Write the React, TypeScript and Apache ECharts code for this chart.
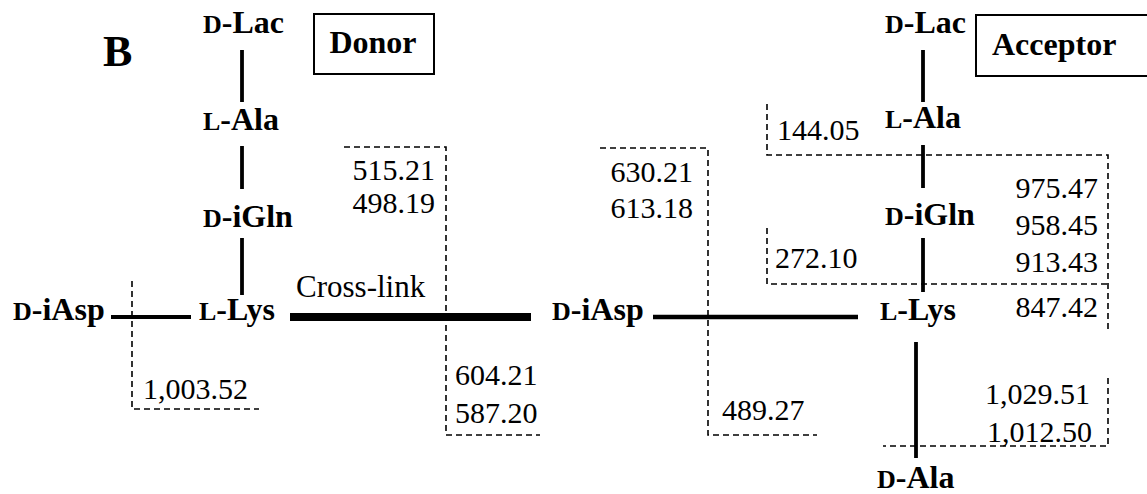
import { useEffect, useRef } from "react";
import * as echarts from "echarts";

const FONT = "Liberation Serif, Times New Roman, Times, serif";
const VIEW_W = 1147;
const VIEW_H = 494;

// Residues: [stereo prefix, residue, left x, baseline y]
const donorResidues: [string, string, number, number][] = [
  ["D", "Lac", 203, 33],
  ["L", "Ala", 203, 130],
  ["D", "iGln", 203, 227],
  ["L", "Lys", 199, 320],
  ["D", "iAsp", 13, 320],
];
const acceptorResidues: [string, string, number, number][] = [
  ["D", "Lac", 885, 33],
  ["L", "Ala", 885, 128],
  ["D", "iGln", 885, 225],
  ["L", "Lys", 880, 320],
  ["D", "Ala", 877, 488],
  ["D", "iAsp", 552, 320],
];

// Fragment masses: [label, anchor x, baseline y, anchor side]
const donorMasses: [string, number, number, string][] = [
  ["515.21", 435, 180, "right"],
  ["498.19", 435, 213, "right"],
  ["604.21", 455, 385, "left"],
  ["587.20", 455, 423, "left"],
  ["1,003.52", 143, 399, "left"],
];
const acceptorMasses: [string, number, number, string][] = [
  ["630.21", 693, 182, "right"],
  ["613.18", 693, 218, "right"],
  ["489.27", 722, 420, "left"],
  ["144.05", 777, 140, "left"],
  ["272.10", 775, 268, "left"],
  ["975.47", 1098, 198, "right"],
  ["958.45", 1098, 235, "right"],
  ["913.43", 1098, 272, "right"],
  ["847.42", 1098, 317, "right"],
  ["1,029.51", 1090, 404, "right"],
  ["1,012.50", 1092, 442, "right"],
];

// Bonds: [x1, y1, x2, y2]
const peptideBonds: number[][] = [
  [242, 50, 242, 102],
  [242, 146, 242, 189],
  [242, 238, 242, 295],
  [111, 317, 191, 317],
  [923, 50, 923, 102],
  [923, 145, 923, 188],
  [923, 238, 923, 292],
  [916, 342, 916, 458],
];
const acceptorBridgeBonds: number[][] = [[653, 317, 858, 317]];
const crossLinkBonds: number[][] = [[290, 317, 531, 317]];

// Dashed cleavage lines (point lists)
const cleavageLines: number[][][] = [
  [[132, 281], [132, 409], [259, 409]],
  [[344, 147], [446, 147], [446, 435], [540, 435]],
  [[600, 148], [708, 148], [708, 435], [817, 435]],
  [[767, 104], [767, 155], [1108, 155], [1108, 330]],
  [[767, 228], [767, 284], [1108, 284]],
  [[1108, 378], [1108, 446], [883, 446]],
];

// Panel boxes: [title, x1, y1, x2, y2, text x, text baseline, align]
const panelBoxes: [string, number, number, number, number, number, number, string][] = [
  ["Donor", 314, 14, 434, 74, 373, 53, "center"],
  ["Acceptor", 976, 15, 1152, 76, 992, 55, "left"],
];

// Free annotations: [text, left x, baseline y, font size, weight]
const annotations: [string, number, number, number, string][] = [
  ["B", 103, 66, 44, "bold"],
  ["Cross-link", 296, 297, 31, "normal"],
];

const measureCtx =
  typeof document !== "undefined"
    ? document.createElement("canvas").getContext("2d")
    : null;
function measure(text: string, size: number, weight: string) {
  if (!measureCtx) return text.length * size * 0.6;
  measureCtx.font = `${weight} ${size}px ${FONT}`;
  return measureCtx.measureText(text).width;
}

function textEl(
  x: number,
  baseline: number,
  text: string,
  size: number,
  weight: string,
  align: string
) {
  return {
    type: "text",
    x,
    y: baseline - 0.3375 * size,
    style: {
      text,
      fontSize: size,
      fontWeight: weight,
      fontFamily: FONT,
      fill: "#000",
      align,
      verticalAlign: "middle",
    },
  };
}

const MAIN = 32;
const SMALL = 26;

function residueSeries(list: [string, string, number, number][]) {
  return {
    type: "custom",
    coordinateSystem: "cartesian2d",
    silent: true,
    clip: false,
    encode: { x: 0, y: 1 },
    data: list.map((r) => [r[2], r[3]]),
    renderItem: (params: any, api: any) => {
      const r = list[params.dataIndex];
      const p = api.coord([r[2], r[3]]);
      const w = measure(r[0], SMALL, "bold");
      return {
        type: "group",
        children: [
          textEl(p[0], p[1], r[0], SMALL, "bold", "left"),
          textEl(p[0] + w, p[1], "-" + r[1], MAIN, "bold", "left"),
        ],
      };
    },
  };
}

function massSeries(list: [string, number, number, string][]) {
  return {
    type: "custom",
    coordinateSystem: "cartesian2d",
    silent: true,
    clip: false,
    encode: { x: 0, y: 1 },
    data: list.map((m) => [m[1], m[2]]),
    renderItem: (params: any, api: any) => {
      const m = list[params.dataIndex];
      const p = api.coord([m[1], m[2]]);
      return textEl(p[0], p[1], m[0], 30, "normal", m[3]);
    },
  };
}

function bondSeries(list: number[][], width: number) {
  return {
    type: "custom",
    coordinateSystem: "cartesian2d",
    silent: true,
    clip: false,
    encode: { x: 0, y: 1 },
    data: list.map((b) => [b[0], b[1], b[2], b[3]]),
    renderItem: (params: any, api: any) => {
      const a = api.coord([api.value(0), api.value(1)]);
      const b = api.coord([api.value(2), api.value(3)]);
      return {
        type: "line",
        shape: { x1: a[0], y1: a[1], x2: b[0], y2: b[1] },
        style: { stroke: "#000", lineWidth: width, lineCap: "butt" },
      };
    },
  };
}

export default function App() {
  const ref = useRef<HTMLDivElement>(null);
  useEffect(() => {
    if (!ref.current) return;
    const chart = echarts.init(ref.current, undefined, { renderer: "svg" });
    chart.setOption({
      animation: false,
      backgroundColor: "#fff",
      grid: { left: 0, right: 0, top: 0, bottom: 0 },
      xAxis: { type: "value", min: 0, max: VIEW_W, show: false },
      yAxis: { type: "value", min: 0, max: VIEW_H, inverse: true, show: false },
      series: [
        {
          type: "custom",
          coordinateSystem: "cartesian2d",
          silent: true,
          clip: false,
          encode: { x: 0, y: 1 },
          data: cleavageLines.map((l) => [l[0][0], l[0][1]]),
          renderItem: (params: any, api: any) => {
            const pts = cleavageLines[params.dataIndex].map((pt) => api.coord(pt));
            return {
              type: "polyline",
              shape: { points: pts },
              style: { stroke: "#000", fill: "none", lineWidth: 1.6, lineDash: [6, 4] },
            };
          },
        },
        bondSeries(peptideBonds, 3.8),
        bondSeries(acceptorBridgeBonds, 4.6),
        bondSeries(crossLinkBonds, 8),
        residueSeries(donorResidues),
        residueSeries(acceptorResidues),
        massSeries(donorMasses),
        massSeries(acceptorMasses),
        {
          type: "custom",
          coordinateSystem: "cartesian2d",
          silent: true,
          clip: false,
          encode: { x: 0, y: 1 },
          data: panelBoxes.map((b) => [b[1], b[2]]),
          renderItem: (params: any, api: any) => {
            const b = panelBoxes[params.dataIndex];
            const p1 = api.coord([b[1], b[2]]);
            const p2 = api.coord([b[3], b[4]]);
            const t = api.coord([b[5], b[6]]);
            return {
              type: "group",
              children: [
                {
                  type: "rect",
                  shape: { x: p1[0], y: p1[1], width: p2[0] - p1[0], height: p2[1] - p1[1] },
                  style: { fill: "none", stroke: "#000", lineWidth: 2 },
                },
                textEl(t[0], t[1], b[0], 32, "bold", b[7]),
              ],
            };
          },
        },
        {
          type: "custom",
          coordinateSystem: "cartesian2d",
          silent: true,
          clip: false,
          encode: { x: 0, y: 1 },
          data: annotations.map((a) => [a[1], a[2]]),
          renderItem: (params: any, api: any) => {
            const a = annotations[params.dataIndex];
            const p = api.coord([a[1], a[2]]);
            return textEl(p[0], p[1], a[0], a[3], a[4], "left");
          },
        },
      ],
    });
    return () => chart.dispose();
  }, []);
  return (
    <div
      ref={ref}
      style={{ position: "absolute", left: 0, top: 0, width: VIEW_W, height: VIEW_H, background: "#fff" }}
    />
  );
}
